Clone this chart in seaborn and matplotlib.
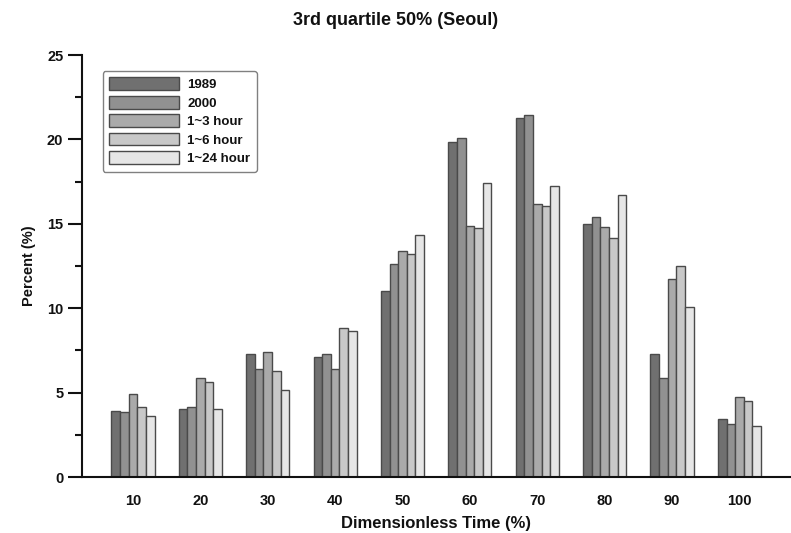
import matplotlib
matplotlib.use("Agg")
import matplotlib.pyplot as plt
from matplotlib.ticker import MultipleLocator
import seaborn as sns
import pandas as pd

categories = ["10", "20", "30", "40", "50", "60", "70", "80", "90", "100"]
series_names = ["1989", "2000", "1~3 hour", "1~6 hour", "1~24 hour"]
v1989 = [3.93, 4.03, 7.31, 7.11, 11.04, 19.85, 21.27, 15.01, 7.27, 3.42]
v2000 = [3.83, 4.13, 6.40, 7.31, 12.62, 20.06, 21.43, 15.42, 5.87, 3.16]
v1_3 = [4.94, 5.85, 7.39, 6.38, 13.39, 14.87, 16.16, 14.79, 11.73, 4.74]
v1_6 = [4.17, 5.63, 6.30, 8.85, 13.23, 14.77, 16.04, 14.18, 12.52, 4.52]
v1_24 = [3.61, 4.03, 5.15, 8.63, 14.32, 17.44, 17.24, 16.71, 10.07, 3.02]
colors = ["#707070", "#919191", "#aaaaaa", "#c8c8c8", "#e6e6e6"]

series_values = [v1989, v2000, v1_3, v1_6, v1_24]
rows = []
for name, vals in zip(series_names, series_values):
    for c, v in zip(categories, vals):
        rows.append({"time": c, "series": name, "percent": v})
df = pd.DataFrame(rows)

sns.set_style("ticks")
plt.rcParams["font.family"] = ["Liberation Sans", "DejaVu Sans"]
plt.rcParams["font.weight"] = "bold"
plt.rcParams["text.color"] = "#111111"
plt.rcParams["axes.labelcolor"] = "#111111"
plt.rcParams["xtick.color"] = "#111111"
plt.rcParams["ytick.color"] = "#111111"
plt.rcParams["axes.edgecolor"] = "#111111"

fig = plt.figure(figsize=(7.91, 5.33), dpi=100)
ax = fig.add_axes([0.1037, 0.105, 0.895, 0.7918])

sns.barplot(data=df, x="time", y="percent", hue="series", order=categories,
            hue_order=series_names, palette=colors, saturation=1,
            width=0.64, edgecolor="#4a4a4a", linewidth=1.0, ax=ax, errorbar=None)

ax.set_xlim(-0.757, 9.75)
ax.set_ylim(0, 25)
ax.yaxis.set_major_locator(MultipleLocator(5))
ax.yaxis.set_minor_locator(MultipleLocator(2.5))
ax.tick_params(axis="y", which="major", length=10, width=1.5, direction="out", labelsize=10.5)
ax.tick_params(axis="y", which="minor", length=5, width=1.5, direction="out")
ax.tick_params(axis="x", length=0, labelsize=10.5, pad=12)
for lab in ax.get_xticklabels() + ax.get_yticklabels():
    lab.set_fontweight("bold")

for s in ["top", "right"]:
    ax.spines[s].set_visible(False)
ax.spines["left"].set_linewidth(1.5)
ax.spines["bottom"].set_linewidth(1.5)

ax.set_xlabel("Dimensionless Time (%)", fontsize=12, fontweight="bold", labelpad=6)
ax.set_ylabel("Percent (%)", fontsize=10.5, fontweight="bold", labelpad=8)
fig.suptitle("3rd quartile 50% (Seoul)", fontsize=13, fontweight="bold", y=0.978)

sns.move_legend(ax, "upper left", bbox_to_anchor=(0.02, 0.978), title=None,
                frameon=True, fancybox=True, edgecolor="#808080",
                handlelength=5.3, handleheight=1.1, labelspacing=0.35,
                handletextpad=0.6, borderpad=0.5, prop={"size": 9.5, "weight": "bold"})
leg = ax.get_legend()
leg.get_frame().set_linewidth(1.0)
leg.get_frame().set_alpha(1)
for h in leg.legend_handles:
    h.set_edgecolor("#4a4a4a")
    h.set_linewidth(1.0)

fig.savefig("out.png", dpi=100)
